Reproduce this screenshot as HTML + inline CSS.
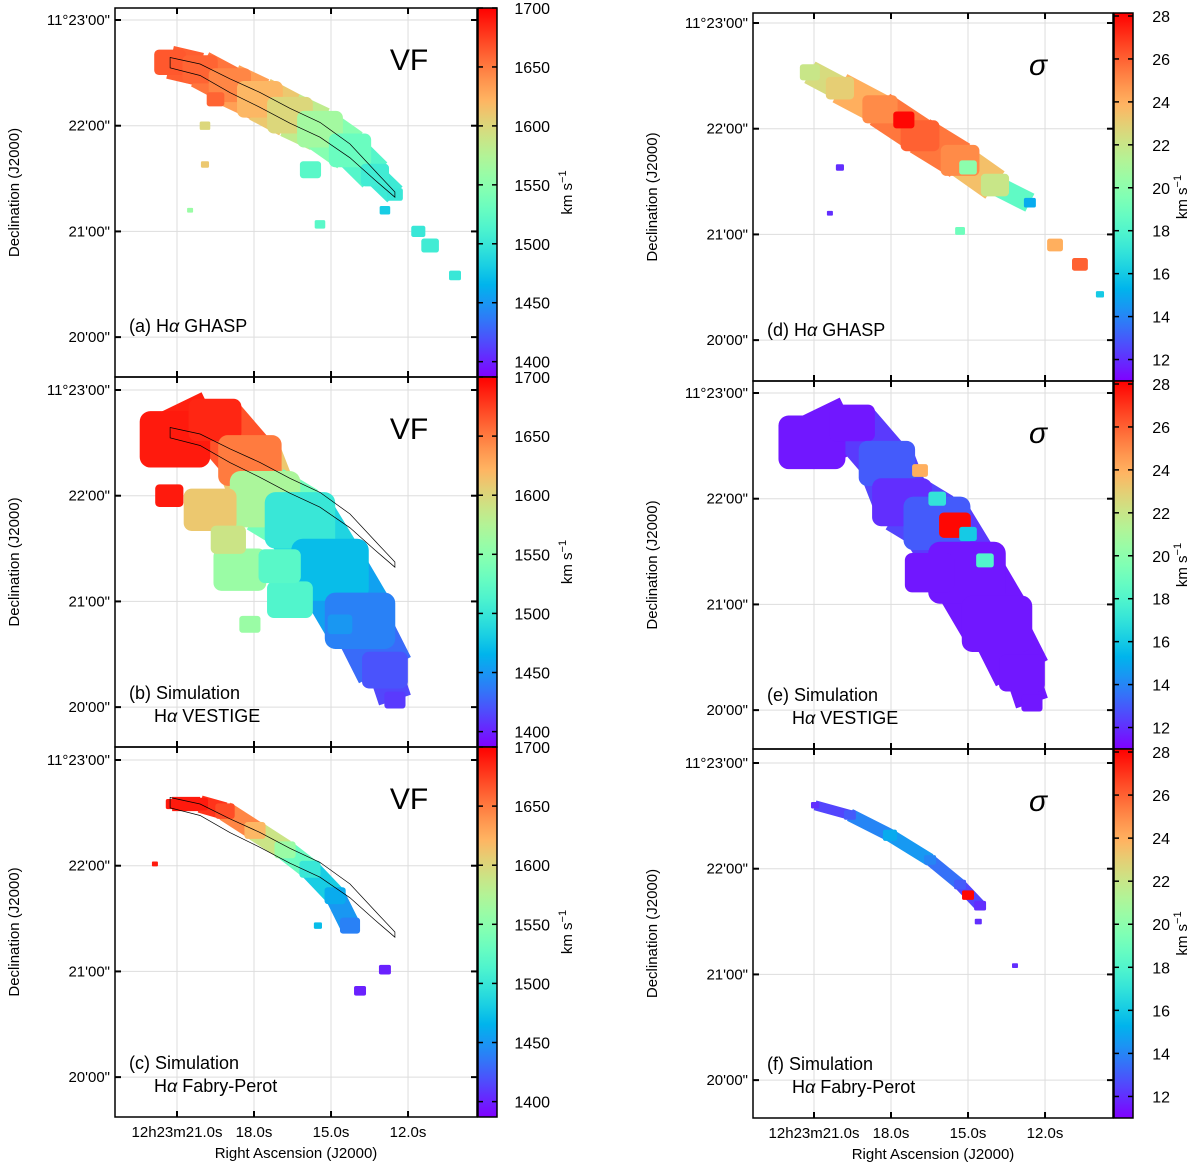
<!DOCTYPE html>
<html><head><meta charset="utf-8"><style>
body{margin:0;background:#fff}
svg{display:block;font-family:"Liberation Sans",sans-serif}
</style></head><body>
<svg id="fig" width="1200" height="1167" viewBox="0 0 1200 1167" xmlns="http://www.w3.org/2000/svg"></svg>
<script>
// ---- data: knots [RA seconds, Dec arcsec above 11d20m00s, half-width arcsec, value]
const mainA=[[21.27,156,9,1665],[20.10,152,10,1660],[18.94,143,12,1645],[17.77,135,13,1620],[16.60,126,13,1600],[15.43,118,13,1565],[14.26,106,12,1530],[13.29,92,8,1505],[12.51,81,4.5,1500]];
const spotsA=[[11.14,52,5,1505],[11.6,60,4,1500],[10.17,35,3.4,1500],[15.43,64,3,1520],[19.91,120,3,1600],[19.91,98,2.3,1610],[20.49,72,1.7,1560],[19.5,135,5,1660],[15.8,95,6,1520],[12.9,72,3,1480]];
const mainB=[[21.08,152,20,1690],[19.52,163,15,1685],[18.16,140,18,1650],[17.57,118,20,1570],[16.21,106,20,1500],[15.04,78,22,1470],[13.87,49,20,1440],[12.9,21,13,1420],[12.51,4,6,1410]];
const spotsB=[[19.71,112,15,1610],[18.55,78,15,1560],[16.60,61,13,1515],[18.16,47,6,1560],[14.65,47,7,1450],[21.3,120,8,1690],[17.0,80,12,1520],[19.0,95,10,1590]];
const mainC=[[21.19,155,3.6,1690],[20.10,155,4.5,1690],[19.13,151,5.5,1670],[17.96,140,6,1620],[16.79,129,6,1560],[15.82,118,6,1500],[14.84,103,6,1460],[14.26,86,5.7,1440]];
const spotsC=[[12.9,61,3.4,1400],[13.87,49,3.4,1400],[15.51,86,2.3,1470],[21.86,121,1.7,1690]];
const mainD=[[21.16,152,5.7,22],[19.99,143,8,23],[18.43,131,10,25],[16.87,116,11,26],[15.31,102,11,25],[13.95,88,8,22],[12.59,78,3.4,15]];
const spotsD=[[11.61,54,4.5,24],[10.64,43,4.5,26],[9.86,26,2.3,16],[15.31,62,2.8,19],[19.99,98,2.3,12],[20.38,72,1.7,12],[17.5,125,6,28],[15.0,98,5,20]];
const mainE=[[21.08,152,19,11.5],[19.52,163,13,11.5],[18.16,140,16,13],[17.57,118,17,12],[16.21,106,19,13],[15.04,78,22,11.5],[13.87,49,20,11.5],[12.9,21,13,11.5],[12.51,4,6,11.5]];
const spotsE=[[16.5,78,14,11.5],[15.51,105,9,28],[16.87,136,4.5,24],[14.34,85,5,18],[16.2,120,5,17],[15.0,100,5,16]];
const mainF=[[20.96,156,2.3,12],[19.6,150.5,3.4,13],[18.04,139,4,15],[16.48,125,3.4,14],[15.31,111,3.4,13],[14.53,99,3.4,12]];
const spotsF=[[15.0,105,3.4,28],[13.17,65,1.7,12],[14.6,90,2,12]];
const velTicks=[1700,1650,1600,1550,1500,1450,1400];
const sigTicks=[28,26,24,22,20,18,16,14,12];
const raTicks=[21.0,18.0,15.0,12.0];
const raLabels=["12h23m21.0s","18.0s","15.0s","12.0s"];
const decTicks=[180,120,60,0];
const decLabels=["11°23'00\"","22'00\"","21'00\"","20'00\""];

const NS="http://www.w3.org/2000/svg";
const svg=document.getElementById('fig');
function mk(t,a,p){const e=document.createElementNS(NS,t);for(const k in a)e.setAttribute(k,a[k]);(p||svg).appendChild(e);return e;}
function rainbow(t){t=Math.max(0,Math.min(1,t));const r=Math.min(1,Math.abs(2*t-0.5)),g=Math.sin(Math.PI*t),b=Math.cos(Math.PI*t/2);return `rgb(${Math.round(r*255)},${Math.round(g*255)},${Math.round(b*255)})`;}
const PXS=25.67, PXA=1/0.5676;
const panels=[
 {id:'a',x0:115,x1:477,y0:8,y1:377,ra21:177,y23:20,main:mainA,spots:spotsA,vmin:1387,vmax:1700,ticks:velTicks,cb:'vel',title:'VF',lab:['(a) H','α',' GHASP'],bottom:false,left:true},
 {id:'b',x0:115,x1:477,y0:377,y1:747,ra21:177,y23:390,main:mainB,spots:spotsB,vmin:1387,vmax:1700,ticks:velTicks,cb:'vel',title:'VF',lab:['(b) Simulation'],lab2:['H','α',' VESTIGE'],bottom:false,left:true},
 {id:'c',x0:115,x1:477,y0:747,y1:1117,ra21:177,y23:760,main:mainC,spots:spotsC,vmin:1387,vmax:1700,ticks:velTicks,cb:'vel',title:'VF',lab:['(c) Simulation'],lab2:['H','α',' Fabry-Perot'],bottom:true,left:true},
 {id:'d',x0:753,x1:1113,y0:13,y1:381,ra21:814,y23:23,main:mainD,spots:spotsD,vmin:11,vmax:28.14,ticks:sigTicks,cb:'sig',title:'σ',lab:['(d) H','α',' GHASP'],bottom:false},
 {id:'e',x0:753,x1:1113,y0:381,y1:749,ra21:814,y23:393,main:mainE,spots:spotsE,vmin:11,vmax:28.14,ticks:sigTicks,cb:'sig',title:'σ',lab:['(e) Simulation'],lab2:['H','α',' VESTIGE'],bottom:false},
 {id:'f',x0:753,x1:1113,y0:749,y1:1118,ra21:814,y23:763,main:mainF,spots:spotsF,vmin:11,vmax:28.14,ticks:sigTicks,cb:'sig',title:'σ',lab:['(f) Simulation'],lab2:['H','α',' Fabry-Perot'],bottom:true}
];
panels.forEach(p=>{
 const g=mk('g',{});
 
 
 const X=ra=>p.ra21+(21-ra)*PXS, Y=d=>p.y23+(180-d)*PXA;
 const col=v=>rainbow((v-p.vmin)/(p.vmax-p.vmin));
 const clipId='clip'+p.id;
 const cp=mk('clipPath',{id:clipId},g);mk('rect',{x:p.x0,y:p.y0,width:p.x1-p.x0,height:p.y1-p.y0},cp);
 raTicks.forEach(r=>{const l=mk('line',{x1:X(r),x2:X(r),y1:p.y0,y2:p.y1,stroke:'#ddd','stroke-width':1},g);});
 decTicks.forEach(d=>{const l=mk('line',{x1:p.x0,x2:p.x1,y1:Y(d),y2:Y(d),stroke:'#ddd','stroke-width':1},g);});
 const mg=mk('g',{'clip-path':`url(#${clipId})`},g);
 
 
 for(let i=0;i<p.main.length-1;i++){const a=p.main[i],b=p.main[i+1];
  const s=mk('line',{x1:X(a[0]),y1:Y(a[1]),x2:X(b[0]),y2:Y(b[1]),stroke:col((a[3]+b[3])/2),'stroke-width':(a[2]+b[2])*PXA,'stroke-linecap':'butt'},mg);
  }
 p.main.concat(p.spots).forEach(k=>{const c=mk('rect',{x:X(k[0])-k[2]*PXA,y:Y(k[1])-k[2]*PXA*0.8,width:2*k[2]*PXA,height:1.6*k[2]*PXA,rx:k[2]*PXA*0.3,fill:col(k[3])},mg);
  });
 if(p.left){const pts=mainA;
  const d=pts.map((k,i)=>(i?'L':'M')+X(k[0]).toFixed(1)+' '+(Y(k[1])-k[2]*PXA*0.3).toFixed(1)).join(' ')+' '+pts.slice().reverse().map(k=>'L'+X(k[0]).toFixed(1)+' '+(Y(k[1])+k[2]*PXA*0.35).toFixed(1)).join(' ')+'Z';
  const c=mk('path',{d:d,fill:'none',stroke:'#000','stroke-width':0.7},mg);}
 const fr=mk('rect',{x:p.x0,y:p.y0,width:p.x1-p.x0,height:p.y1-p.y0,fill:'none',stroke:'#000','stroke-width':1.5},g);
 
 raTicks.forEach(r=>{mk('line',{x1:X(r),x2:X(r),y1:p.y0,y2:p.y0+6,stroke:'#000','stroke-width':2},g);mk('line',{x1:X(r),x2:X(r),y1:p.y1,y2:p.y1-6,stroke:'#000','stroke-width':2},g);});
 decTicks.forEach((d,i)=>{mk('line',{x1:p.x0,x2:p.x0+6,y1:Y(d),y2:Y(d),stroke:'#000','stroke-width':2},g);mk('line',{x1:p.x1,x2:p.x1-6,y1:Y(d),y2:Y(d),stroke:'#000','stroke-width':2},g);
  const t=mk('text',{x:p.x0-5,y:Y(d)+5,'text-anchor':'end','font-size':15},g);t.textContent=decLabels[i];});
 if(p.bottom){raTicks.forEach((r,i)=>{const t=mk('text',{x:X(r),y:p.y1+20,'text-anchor':'middle','font-size':15},g);t.textContent=raLabels[i];});
  const t=mk('text',{x:(p.x0+p.x1)/2,y:p.y1+41,'text-anchor':'middle','font-size':15},g);t.textContent='Right Ascension (J2000)';}
 const yl=mk('text',{transform:`translate(${p.x0-96},${(p.y0+p.y1)/2}) rotate(-90)`,'text-anchor':'middle','font-size':15},g);yl.textContent='Declination (J2000)';
 const tt=mk('text',{x:p.id<'d'?409:1038,y:p.y0+62,'text-anchor':'middle','font-size':30,'font-style':p.cb==='sig'?'italic':'normal'},g);tt.textContent=p.title;
 function lab(parts,x,y,name){const t=mk('text',{x:x,y:y,'font-size':18},g);parts.forEach(s=>{const ts=mk('tspan',{},t);if(s==='α')ts.setAttribute('font-style','italic');ts.textContent=s;});}
 const lx=p.x0+14;
 if(p.lab2){lab(p.lab,lx,p.y1-48,'panel-label');lab(p.lab2,lx+25,p.y1-25,'panel-sublabel');}else lab(p.lab,lx,p.y1-45,'panel-label');
 const cx=p.x1+1,cw=19;
 const gid='grad'+p.id;const gr=mk('linearGradient',{id:gid,x1:0,y1:1,x2:0,y2:0},g);
 for(let i=0;i<=20;i++)mk('stop',{offset:i/20,'stop-color':rainbow(i/20)},gr);
 const cb=mk('rect',{x:cx,y:p.y0,width:cw,height:p.y1-p.y0,fill:`url(#${gid})`,stroke:'#000','stroke-width':1.5},g);
 
 const CY=v=>p.y1-(v-p.vmin)/(p.vmax-p.vmin)*(p.y1-p.y0);
 p.ticks.forEach(v=>{const y=CY(v);mk('line',{x1:cx,x2:cx+5,y1:y,y2:y,stroke:'#000','stroke-width':1.5},g);mk('line',{x1:cx+cw-5,x2:cx+cw,y1:y,y2:y,stroke:'#000','stroke-width':1.5},g);
  const t=mk('text',{x:cx+cw+(p.cb==='vel'?53:37),y:y+6,'text-anchor':'end','font-size':16},g);t.textContent=v;});
 const u=mk('text',{transform:`translate(${cx+cw+(p.cb==='vel'?75:54)},${(p.y0+p.y1)/2}) rotate(-90)`,'text-anchor':'middle','font-size':15},g);
 
 u.textContent='km s';const sp=mk('tspan',{dy:-6,'font-size':11},u);sp.textContent='−1';
});
</script>
</body></html>
